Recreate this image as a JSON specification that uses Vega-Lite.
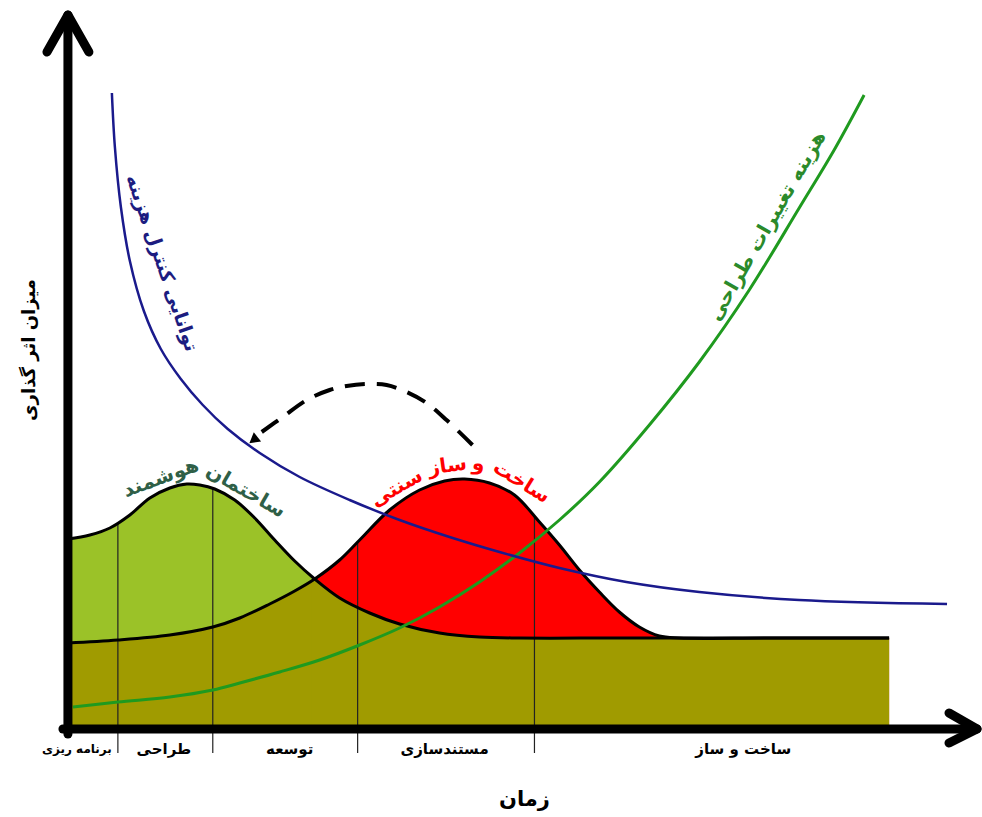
{
  "$schema": "https://vega.github.io/schema/vega-lite/v6.json",
  "width": 982,
  "height": 817,
  "autosize": {"type": "fit", "contains": "padding"},
  "padding": 0,
  "background": "white",
  "config": {"view": {"stroke": null}, "text": {"font": "DejaVu Sans", "fontWeight": "bold"}},
  "datasets": {
    "G": [
      {"x": 0, "y": 19.0}, {"x": 2.2, "y": 19.4}, {"x": 4.2, "y": 20.1}, {"x": 6.2, "y": 21.4}, {"x": 8.2, "y": 23.1},
      {"x": 10.2, "y": 24.1}, {"x": 11.9, "y": 24.5}, {"x": 13.2, "y": 24.4}, {"x": 14.7, "y": 24.0}, {"x": 16.7, "y": 22.9},
      {"x": 18.7, "y": 21.1}, {"x": 20.7, "y": 18.9}, {"x": 22.7, "y": 16.8}, {"x": 24.7, "y": 15.0}, {"x": 27.2, "y": 13.1},
      {"x": 30.2, "y": 11.6}, {"x": 33.2, "y": 10.5}, {"x": 37.2, "y": 9.6}, {"x": 41.2, "y": 9.2}, {"x": 45.2, "y": 9.1},
      {"x": 55.0, "y": 9.1}, {"x": 70.0, "y": 9.1}, {"x": 82.2, "y": 9.1}
    ],
    "R": [
      {"x": 0, "y": 8.6}, {"x": 5.0, "y": 8.9}, {"x": 10.2, "y": 9.4}, {"x": 14.5, "y": 10.2}, {"x": 17.2, "y": 11.1},
      {"x": 20.2, "y": 12.5}, {"x": 22.7, "y": 13.8}, {"x": 24.7, "y": 15.0}, {"x": 27.2, "y": 16.9}, {"x": 29.2, "y": 18.9},
      {"x": 32.2, "y": 21.9}, {"x": 35.2, "y": 23.9}, {"x": 37.7, "y": 24.8}, {"x": 39.7, "y": 25.0}, {"x": 42.2, "y": 24.6},
      {"x": 44.7, "y": 23.4}, {"x": 47.2, "y": 20.7}, {"x": 49.2, "y": 18.4}, {"x": 51.2, "y": 15.9}, {"x": 53.2, "y": 13.7},
      {"x": 55.2, "y": 11.7}, {"x": 57.2, "y": 10.2}, {"x": 59.2, "y": 9.3}, {"x": 61.2, "y": 9.1}, {"x": 70.0, "y": 9.1},
      {"x": 82.2, "y": 9.1}
    ],
    "O": [
      {"s": "a", "x": 0, "y": 8.6}, {"s": "a", "x": 5.0, "y": 8.9}, {"s": "a", "x": 10.2, "y": 9.4}, {"s": "a", "x": 14.5, "y": 10.2},
      {"s": "a", "x": 17.2, "y": 11.1}, {"s": "a", "x": 20.2, "y": 12.5}, {"s": "a", "x": 22.7, "y": 13.8}, {"s": "a", "x": 24.7, "y": 15.0},
      {"s": "a", "x": 25.0, "y": 14.75},
      {"s": "b", "x": 24.4, "y": 14.8},
      {"s": "b", "x": 24.7, "y": 15.0}, {"s": "b", "x": 27.2, "y": 13.1}, {"s": "b", "x": 30.2, "y": 11.6}, {"s": "b", "x": 33.2, "y": 10.5},
      {"s": "b", "x": 37.2, "y": 9.6}, {"s": "b", "x": 41.2, "y": 9.2}, {"s": "b", "x": 45.2, "y": 9.1}, {"s": "b", "x": 55.0, "y": 9.1},
      {"s": "b", "x": 70.0, "y": 9.1}, {"s": "b", "x": 82.2, "y": 9.1}
    ],
    "blue": [
      {"x": 4.4, "y": 63.6}, {"x": 4.7, "y": 58.2}, {"x": 5.3, "y": 52.2}, {"x": 6.2, "y": 46.8}, {"x": 7.6, "y": 41.8},
      {"x": 9.3, "y": 38.0}, {"x": 11.3, "y": 35.0}, {"x": 13.5, "y": 32.4}, {"x": 16.0, "y": 30.0}, {"x": 19.2, "y": 27.6},
      {"x": 23.2, "y": 25.2}, {"x": 28.2, "y": 22.9}, {"x": 33.2, "y": 20.9}, {"x": 38.2, "y": 19.2}, {"x": 43.2, "y": 17.7},
      {"x": 49.2, "y": 16.1}, {"x": 55.9, "y": 14.7}, {"x": 63.2, "y": 13.7}, {"x": 73.2, "y": 12.9}, {"x": 88.0, "y": 12.5}
    ],
    "cost": [
      {"x": 0.5, "y": 2.2}, {"x": 5.0, "y": 2.7}, {"x": 10.2, "y": 3.2}, {"x": 14.5, "y": 3.9}, {"x": 17.2, "y": 4.6},
      {"x": 21.2, "y": 5.7}, {"x": 25.2, "y": 6.9}, {"x": 29.2, "y": 8.4}, {"x": 33.2, "y": 10.1}, {"x": 37.2, "y": 12.2},
      {"x": 41.2, "y": 14.7}, {"x": 45.2, "y": 17.6}, {"x": 49.2, "y": 20.9}, {"x": 53.2, "y": 24.7}, {"x": 58.2, "y": 30.4},
      {"x": 63.2, "y": 36.7}, {"x": 68.2, "y": 43.9}, {"x": 73.2, "y": 52.1}, {"x": 76.7, "y": 57.9}, {"x": 79.7, "y": 63.4}
    ],
    "arc": [
      {"x": 40.5, "y": 28.4}, {"x": 37.9, "y": 30.9}, {"x": 35.9, "y": 32.6}, {"x": 33.9, "y": 33.7}, {"x": 31.9, "y": 34.4},
      {"x": 29.9, "y": 34.5}, {"x": 27.9, "y": 34.3}, {"x": 26.2, "y": 33.9}, {"x": 23.9, "y": 32.9}, {"x": 21.5, "y": 31.2},
      {"x": 19.4, "y": 29.7}
    ],
    "tip": [{"x": 18.7, "y": 29.0}],
    "axes": [
      {"x": 0, "y": -0.5, "x2": 0, "y2": 71.0},
      {"x": -2.1, "y": 67.7, "x2": 0, "y2": 71.4},
      {"x": 2.1, "y": 67.7, "x2": 0, "y2": 71.4},
      {"x": -0.5, "y": 0, "x2": 90.8, "y2": 0},
      {"x": 88.2, "y": 1.6, "x2": 91.0, "y2": 0},
      {"x": 88.2, "y": -1.4, "x2": 91.0, "y2": 0}
    ],
    "seps": [
      {"x": 5.0, "y": -2.4, "x2": 5.0, "y2": 20.6},
      {"x": 14.5, "y": -2.4, "x2": 14.5, "y2": 24.05},
      {"x": 29.0, "y": -2.4, "x2": 29.0, "y2": 18.7},
      {"x": 46.7, "y": -2.4, "x2": 46.7, "y2": 21.2}
    ],
    "stages": [
      {"x": 9.6, "y": -2.0, "t": "طراحی"},
      {"x": 22.2, "y": -2.0, "t": "توسعه"},
      {"x": 37.7, "y": -2.0, "t": "مستندسازی"},
      {"x": 67.6, "y": -2.0, "t": "ساخت و ساز"}
    ],
    "stage0": [{"x": 0.9, "y": -2.0, "t": "برنامه ریزی"}]
  },
  "encoding": {
    "x": {"field": "x", "type": "quantitative", "scale": {"domain": [-6.8, 91.4], "nice": false, "zero": false}, "axis": null},
    "y": {"field": "y", "type": "quantitative", "scale": {"domain": [-8.8, 72.9], "nice": false, "zero": false}, "axis": null}
  },
  "layer": [
    {"data": {"name": "G"}, "mark": {"type": "area", "interpolate": "catmull-rom", "color": "#9bc228"}, "encoding": {"y2": {"datum": 0}}},
    {"data": {"name": "R"}, "mark": {"type": "area", "interpolate": "catmull-rom", "color": "#ff0000"}, "encoding": {"y2": {"datum": 0}}},
    {"data": {"name": "O"}, "mark": {"type": "area", "interpolate": "catmull-rom", "color": "#a09b00"}, "encoding": {"y2": {"datum": 0}, "detail": {"field": "s"}}},
    {"data": {"name": "seps"}, "mark": {"type": "rule", "color": "#222222", "strokeWidth": 1.2}, "encoding": {"x2": {"field": "x2"}, "y2": {"field": "y2"}}},
    {"data": {"name": "G"}, "mark": {"type": "line", "interpolate": "catmull-rom", "color": "#000000", "strokeWidth": 3}, "encoding": {}},
    {"data": {"name": "R"}, "mark": {"type": "line", "interpolate": "catmull-rom", "color": "#000000", "strokeWidth": 3}, "encoding": {}},
    {"data": {"name": "cost"}, "mark": {"type": "line", "interpolate": "catmull-rom", "color": "#1f9a1f", "strokeWidth": 3}, "encoding": {}},
    {"data": {"name": "blue"}, "mark": {"type": "line", "interpolate": "catmull-rom", "color": "#1a1a8c", "strokeWidth": 2.5}, "encoding": {}},
    {"data": {"name": "arc"}, "mark": {"type": "line", "interpolate": "catmull-rom", "color": "#000000", "strokeWidth": 4, "strokeDash": [20, 12]}, "encoding": {}},
    {"data": {"name": "tip"}, "mark": {"type": "point", "shape": "triangle", "filled": true, "color": "#000000", "size": 140, "angle": 232, "opacity": 1}, "encoding": {}},
    {"data": {"name": "axes"}, "mark": {"type": "rule", "color": "#000000", "strokeWidth": 9, "strokeCap": "round"}, "encoding": {"x2": {"field": "x2"}, "y2": {"field": "y2"}}},
    {"data": {"name": "stages"}, "mark": {"type": "text", "fontSize": 15, "color": "#000000"}, "encoding": {"text": {"field": "t"}}},
    {"data": {"name": "stage0"}, "mark": {"type": "text", "fontSize": 12, "color": "#000000"}, "encoding": {"text": {"field": "t"}}},
    {"data": {"values": [{"x": 45.7, "y": -7.1, "t": "زمان"}]}, "mark": {"type": "text", "fontSize": 21, "color": "#000000"}, "encoding": {"text": {"field": "t"}}},
    {"data": {"values": [{"x": -3.8, "y": 37.9, "t": "میزان اثر گذاری"}]}, "mark": {"type": "text", "fontSize": 18, "angle": 270, "color": "#000000"}, "encoding": {"text": {"field": "t"}}},
    {"data": {"values": [{"x": 9.4, "y": 46.6, "t": "توانایی کنترل هزینه"}]}, "mark": {"type": "text", "fontSize": 19, "angle": 71, "color": "#1c1c80"}, "encoding": {"text": {"field": "t"}}},
    {"data": {"values": [{"x": 70.0, "y": 50.3, "t": "هزینه تغییرات طراحی"}]}, "mark": {"type": "text", "fontSize": 20, "angle": -60, "color": "#2b8a2b"}, "encoding": {"text": {"field": "t"}}},
    {"data": {"values": [{"x": 9.3, "y": 25.1, "t": "هوشمند"}]}, "mark": {"type": "text", "fontSize": 20, "angle": -20, "color": "#2f5f47"}, "encoding": {"text": {"field": "t"}}},
    {"data": {"values": [{"x": 17.8, "y": 23.8, "t": "ساختمان"}]}, "mark": {"type": "text", "fontSize": 20, "angle": 30, "color": "#2f5f47"}, "encoding": {"text": {"field": "t"}}},
    {"data": {"values": [{"x": 32.9, "y": 24.1, "t": "سنتی"}]}, "mark": {"type": "text", "fontSize": 20, "angle": -30, "color": "#ff0000"}, "encoding": {"text": {"field": "t"}}},
    {"data": {"values": [{"x": 38.0, "y": 26.3, "t": "ساز"}]}, "mark": {"type": "text", "fontSize": 20, "angle": -8, "color": "#ff0000"}, "encoding": {"text": {"field": "t"}}},
    {"data": {"values": [{"x": 41.1, "y": 26.5, "t": "و"}]}, "mark": {"type": "text", "fontSize": 20, "angle": 5, "color": "#ff0000"}, "encoding": {"text": {"field": "t"}}},
    {"data": {"values": [{"x": 45.4, "y": 24.7, "t": "ساخت"}]}, "mark": {"type": "text", "fontSize": 20, "angle": 32, "color": "#ff0000"}, "encoding": {"text": {"field": "t"}}}
  ]
}
